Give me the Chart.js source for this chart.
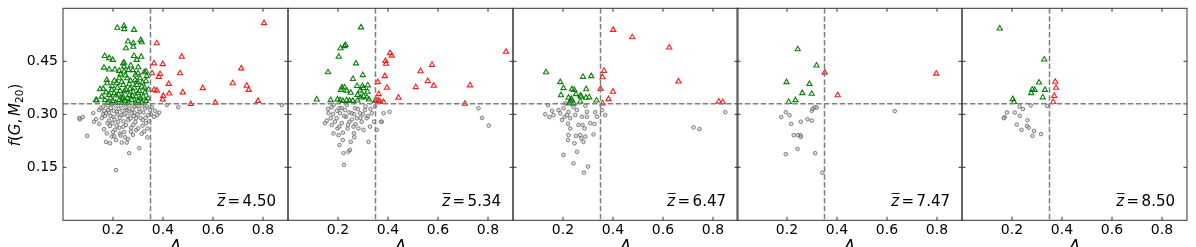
<!DOCTYPE html>
<html><head><meta charset="utf-8">
<script src="https://cdn.jsdelivr.net/npm/chart.js@4"></script>
<style>
html,body{margin:0;padding:0;background:#fff;overflow:hidden;width:1196px;height:247px;}
#wrap{position:relative;width:1196px;height:247px;overflow:hidden;background:#fff;}
canvas{position:absolute;top:0;}
</style></head><body><div id="wrap"></div>
<script>
// ---- data: each point is [A, f(G,M20)] ----
const xTicks = [0.2, 0.4, 0.6, 0.8];
const yTicks = [0.15, 0.30, 0.45];
const cutA = 0.35, cutF = 0.33;
const zLabels = ["4.50", "5.34", "6.47", "7.47", "8.50"];

const p1Gray = [[0.068,0.286],[0.065,0.289],[0.079,0.292],[0.097,0.239],[0.121,0.303],[0.124,0.279],[0.132,0.286],[0.145,0.312],[0.145,0.273],[0.155,0.289],[0.161,0.322],[0.164,0.258],[0.172,0.303],[0.175,0.246],[0.181,0.312],[0.185,0.282],[0.188,0.267],[0.172,0.222],[0.188,0.218],[0.195,0.237],[0.201,0.293],[0.208,0.256],[0.212,0.227],[0.215,0.307],[0.212,0.142],[0.221,0.279],[0.228,0.246],[0.235,0.298],[0.235,0.220],[0.241,0.265],[0.248,0.235],[0.255,0.312],[0.255,0.220],[0.261,0.284],[0.265,0.190],[0.271,0.251],[0.275,0.303],[0.281,0.270],[0.288,0.322],[0.292,0.289],[0.301,0.260],[0.305,0.204],[0.308,0.307],[0.319,0.284],[0.324,0.251],[0.328,0.317],[0.332,0.275],[0.337,0.235],[0.341,0.298],[0.364,0.293],[0.377,0.298],[0.348,0.312],[0.415,0.326],[0.461,0.320],[0.875,0.326],[0.160,0.300],[0.150,0.318],[0.168,0.295],[0.178,0.325],[0.185,0.305],[0.192,0.318],[0.198,0.275],[0.203,0.310],[0.206,0.285],[0.210,0.325],[0.218,0.300],[0.222,0.315],[0.225,0.262],[0.228,0.290],[0.232,0.325],[0.238,0.310],[0.242,0.280],[0.245,0.300],[0.250,0.320],[0.252,0.270],[0.258,0.296],[0.262,0.310],[0.266,0.325],[0.270,0.288],[0.272,0.262],[0.278,0.315],[0.283,0.295],[0.286,0.305],[0.290,0.278],[0.295,0.325],[0.298,0.300],[0.305,0.315],[0.310,0.290],[0.315,0.326],[0.318,0.268],[0.322,0.305],[0.330,0.290],[0.335,0.322],[0.338,0.260],[0.345,0.280],[0.230,0.240],[0.245,0.250],[0.260,0.230],[0.200,0.250],[0.215,0.268],[0.190,0.295],[0.178,0.275],[0.165,0.310],[0.195,0.330],[0.205,0.238],[0.280,0.242],[0.292,0.255],[0.315,0.245],[0.352,0.300],[0.355,0.320],[0.368,0.310],[0.385,0.305]];
const p1Green = [[0.217,0.545],[0.245,0.541],[0.244,0.550],[0.284,0.539],[0.260,0.506],[0.311,0.510],[0.315,0.504],[0.281,0.501],[0.281,0.491],[0.252,0.487],[0.284,0.465],[0.313,0.463],[0.167,0.465],[0.185,0.459],[0.199,0.454],[0.241,0.444],[0.244,0.446],[0.244,0.435],[0.271,0.438],[0.301,0.433],[0.295,0.454],[0.164,0.432],[0.185,0.427],[0.208,0.427],[0.225,0.423],[0.244,0.421],[0.279,0.425],[0.300,0.416],[0.325,0.419],[0.332,0.421],[0.225,0.402],[0.257,0.402],[0.288,0.397],[0.308,0.402],[0.332,0.394],[0.175,0.397],[0.177,0.388],[0.215,0.388],[0.241,0.383],[0.265,0.385],[0.295,0.383],[0.315,0.378],[0.161,0.372],[0.148,0.371],[0.195,0.369],[0.228,0.366],[0.252,0.369],[0.281,0.364],[0.305,0.366],[0.328,0.362],[0.185,0.355],[0.212,0.353],[0.239,0.350],[0.265,0.355],[0.292,0.350],[0.321,0.350],[0.135,0.340],[0.132,0.340],[0.168,0.340],[0.199,0.338],[0.225,0.340],[0.248,0.338],[0.275,0.340],[0.301,0.338],[0.332,0.338],[0.190,0.345],[0.205,0.360],[0.218,0.375],[0.235,0.392],[0.250,0.410],[0.270,0.395],[0.285,0.375],[0.300,0.360],[0.318,0.390],[0.340,0.345],[0.342,0.370],[0.335,0.408],[0.210,0.333],[0.235,0.333],[0.260,0.333],[0.290,0.333],[0.315,0.333],[0.180,0.333],[0.155,0.350],[0.172,0.362],[0.196,0.380],[0.222,0.356],[0.258,0.345],[0.278,0.352],[0.310,0.345],[0.326,0.375],[0.205,0.395],[0.230,0.413],[0.262,0.425],[0.290,0.412],[0.245,0.365],[0.268,0.372],[0.238,0.345],[0.296,0.392]];
const p1Red = [[0.804,0.558],[0.375,0.501],[0.364,0.444],[0.399,0.442],[0.475,0.463],[0.356,0.416],[0.388,0.414],[0.383,0.406],[0.468,0.416],[0.423,0.386],[0.364,0.369],[0.375,0.367],[0.401,0.352],[0.399,0.342],[0.425,0.359],[0.479,0.362],[0.511,0.329],[0.559,0.374],[0.609,0.333],[0.679,0.388],[0.713,0.430],[0.735,0.381],[0.743,0.369],[0.780,0.338]];

const p2Gray = [[0.148,0.275],[0.155,0.282],[0.162,0.303],[0.171,0.289],[0.175,0.270],[0.182,0.246],[0.182,0.326],[0.188,0.279],[0.195,0.289],[0.198,0.260],[0.202,0.241],[0.206,0.317],[0.208,0.303],[0.215,0.275],[0.206,0.213],[0.219,0.227],[0.222,0.190],[0.224,0.157],[0.228,0.312],[0.232,0.293],[0.235,0.326],[0.238,0.260],[0.242,0.194],[0.248,0.199],[0.251,0.222],[0.246,0.279],[0.255,0.303],[0.262,0.265],[0.264,0.246],[0.268,0.317],[0.275,0.289],[0.282,0.260],[0.288,0.303],[0.295,0.279],[0.302,0.256],[0.308,0.312],[0.315,0.289],[0.322,0.222],[0.328,0.265],[0.335,0.303],[0.344,0.279],[0.348,0.322],[0.375,0.279],[0.382,0.303],[0.406,0.307],[0.355,0.256],[0.762,0.317],[0.776,0.290],[0.803,0.268],[0.372,0.279],[0.180,0.300],[0.195,0.310],[0.215,0.318],[0.225,0.295],[0.245,0.305],[0.255,0.285],[0.265,0.300],[0.280,0.315],[0.290,0.290],[0.300,0.300],[0.310,0.322],[0.320,0.295],[0.240,0.270],[0.270,0.272],[0.205,0.265],[0.175,0.320],[0.160,0.315],[0.330,0.315],[0.220,0.248],[0.265,0.235]];
const p2Green = [[0.292,0.546],[0.230,0.496],[0.226,0.493],[0.210,0.487],[0.203,0.463],[0.272,0.444],[0.160,0.419],[0.299,0.411],[0.260,0.400],[0.226,0.376],[0.216,0.376],[0.276,0.380],[0.298,0.380],[0.302,0.374],[0.319,0.382],[0.212,0.369],[0.235,0.367],[0.251,0.361],[0.288,0.367],[0.318,0.364],[0.278,0.355],[0.302,0.352],[0.315,0.348],[0.324,0.342],[0.115,0.342],[0.171,0.340],[0.198,0.342],[0.208,0.340],[0.219,0.338],[0.235,0.340],[0.246,0.338],[0.259,0.338],[0.278,0.339],[0.348,0.338],[0.292,0.348]];
const p2Red = [[0.872,0.477],[0.408,0.473],[0.415,0.466],[0.390,0.451],[0.392,0.443],[0.576,0.440],[0.530,0.422],[0.387,0.408],[0.559,0.394],[0.359,0.391],[0.583,0.381],[0.728,0.382],[0.511,0.377],[0.396,0.375],[0.363,0.357],[0.442,0.347],[0.362,0.338],[0.368,0.336],[0.382,0.335],[0.708,0.330],[0.354,0.339]];

const p3Gray = [[0.140,0.326],[0.129,0.300],[0.146,0.292],[0.156,0.310],[0.162,0.298],[0.182,0.312],[0.189,0.303],[0.196,0.284],[0.202,0.317],[0.206,0.293],[0.216,0.298],[0.220,0.273],[0.222,0.307],[0.229,0.289],[0.202,0.185],[0.220,0.227],[0.222,0.241],[0.229,0.260],[0.242,0.161],[0.246,0.218],[0.249,0.298],[0.256,0.194],[0.252,0.239],[0.256,0.312],[0.262,0.270],[0.269,0.241],[0.273,0.232],[0.276,0.293],[0.278,0.270],[0.282,0.222],[0.284,0.135],[0.286,0.260],[0.289,0.237],[0.296,0.307],[0.300,0.152],[0.296,0.293],[0.309,0.275],[0.322,0.243],[0.326,0.273],[0.329,0.306],[0.336,0.293],[0.356,0.312],[0.369,0.298],[0.722,0.263],[0.746,0.258],[0.849,0.306],[0.209,0.331],[0.242,0.320],[0.289,0.324]];
const p3Green = [[0.132,0.419],[0.189,0.391],[0.280,0.406],[0.313,0.408],[0.202,0.374],[0.236,0.371],[0.245,0.369],[0.293,0.371],[0.192,0.354],[0.252,0.357],[0.270,0.353],[0.273,0.350],[0.222,0.347],[0.233,0.344],[0.292,0.347],[0.305,0.348],[0.236,0.339],[0.269,0.336],[0.334,0.339],[0.225,0.331],[0.242,0.331],[0.229,0.336]];
const p3Red = [[0.401,0.539],[0.477,0.518],[0.625,0.489],[0.364,0.423],[0.358,0.405],[0.662,0.393],[0.350,0.372],[0.400,0.364],[0.382,0.343],[0.358,0.331],[0.823,0.336],[0.839,0.334]];

const p4Gray = [[0.177,0.292],[0.195,0.306],[0.210,0.297],[0.217,0.273],[0.227,0.241],[0.195,0.187],[0.242,0.202],[0.243,0.241],[0.254,0.241],[0.255,0.236],[0.255,0.279],[0.282,0.286],[0.299,0.282],[0.299,0.310],[0.303,0.316],[0.311,0.320],[0.319,0.319],[0.313,0.190],[0.341,0.135],[0.631,0.309]];
const p4Green = [[0.243,0.484],[0.318,0.438],[0.198,0.391],[0.290,0.386],[0.261,0.360],[0.299,0.358],[0.234,0.340],[0.207,0.335]];
const p4Red = [[0.351,0.418],[0.797,0.415],[0.403,0.354]];

const p5Gray = [[0.171,0.292],[0.180,0.305],[0.211,0.305],[0.219,0.271],[0.231,0.296],[0.230,0.322],[0.244,0.315],[0.238,0.256],[0.262,0.283],[0.260,0.267],[0.267,0.262],[0.275,0.325],[0.282,0.239],[0.288,0.253],[0.316,0.244],[0.340,0.324],[0.167,0.289]];
const p5Green = [[0.151,0.543],[0.329,0.455],[0.308,0.390],[0.332,0.369],[0.281,0.370],[0.291,0.369],[0.277,0.360],[0.323,0.348],[0.203,0.343],[0.208,0.335]];
const p5Red = [[0.373,0.392],[0.376,0.375],[0.369,0.352],[0.365,0.335]];

const panels = [
  {gray:p1Gray, green:p1Green, red:p1Red},
  {gray:p2Gray, green:p2Green, red:p2Red},
  {gray:p3Gray, green:p3Green, red:p3Red},
  {gray:p4Gray, green:p4Green, red:p4Red},
  {gray:p5Gray, green:p5Green, red:p5Red}
];

// ---- layout ----
const canvasLefts = [0, 225, 450, 674, 899];
const CW = 296, CH = 262, YW = 63, TOP = 8.3, AREA_BOTTOM = 220.3;
Chart.defaults.font.family = "'DejaVu Sans', sans-serif";
Chart.defaults.color = '#000';

const toXY = arr => arr.map(p => ({x:p[0], y:p[1]}));
const FONT = "'DejaVu Sans', sans-serif";

function framePlugin(idx){
  return {
    id:'frame'+idx,
    afterDatasetsDraw(chart){
      const {ctx, chartArea:a, scales:{x,y}} = chart;
      ctx.save();
      ctx.strokeStyle = '#7f7f7f'; ctx.lineWidth = 1.5; ctx.setLineDash([5.5,2.4]);
      const xv = x.getPixelForValue(cutA), yv = y.getPixelForValue(cutF);
      ctx.beginPath(); ctx.moveTo(xv, a.top); ctx.lineTo(xv, a.bottom); ctx.stroke();
      ctx.beginPath(); ctx.moveTo(a.left, yv); ctx.lineTo(a.right, yv); ctx.stroke();
      ctx.setLineDash([]);
      ctx.strokeStyle = '#333'; ctx.lineWidth = 1;
      ctx.strokeRect(a.left, a.top, a.right - a.left, a.bottom - a.top);
      const L = 3.5;
      ctx.beginPath();
      xTicks.forEach(v => { const p = x.getPixelForValue(v);
        ctx.moveTo(p, a.bottom); ctx.lineTo(p, a.bottom - L);
        ctx.moveTo(p, a.top); ctx.lineTo(p, a.top + L); });
      yTicks.forEach(v => { const p = y.getPixelForValue(v);
        ctx.moveTo(a.left, p); ctx.lineTo(a.left + L, p);
        ctx.moveTo(a.right, p); ctx.lineTo(a.right - L, p); });
      ctx.stroke();
      const fs = 15;
      const italic = 'italic ' + fs + 'px ' + FONT, normal = fs + 'px ' + FONT;
      ctx.fillStyle = '#000';
      ctx.textBaseline = 'alphabetic'; ctx.textAlign = 'left';
      ctx.font = italic; const wz = ctx.measureText('z').width;
      ctx.font = normal; const we = ctx.measureText('=').width; const wv = ctx.measureText(zLabels[idx]).width;
      const gap = 2.5;
      const total = wz + gap + we + gap + wv;
      const base = a.bottom - 14.3;
      let sx = a.right - 12 - total;
      ctx.font = italic; ctx.fillText('z', sx, base);
      ctx.beginPath(); ctx.lineWidth = 0.9; ctx.strokeStyle = '#000';
      ctx.moveTo(sx + 0.5, base - 12.5); ctx.lineTo(sx + wz + 0.5, base - 12.5); ctx.stroke();
      sx += wz + gap;
      ctx.font = normal; ctx.fillText('=', sx, base);
      sx += we + gap;
      ctx.fillText(zLabels[idx], sx, base);
      if (idx === 0) {
        ctx.save();
        ctx.translate(20, 115);
        ctx.rotate(-Math.PI/2);
        const yfs = 15;
        const parts = [
          ['f', 'italic', yfs, 0], ['(', '', yfs, 0], ['G', 'italic', yfs, 0], [',', '', yfs, 0],
          [' ', '', yfs*0.6, 0], ['M', 'italic', yfs, 0], ['20', '', yfs*0.7, 3], [')', '', yfs, 0]
        ];
        let w = 0;
        parts.forEach(p => { ctx.font = (p[1] ? p[1]+' ' : '') + p[2] + 'px ' + FONT; p.push(ctx.measureText(p[0]).width); w += p[4]; });
        let px = -w/2;
        parts.forEach(p => { ctx.font = (p[1] ? p[1]+' ' : '') + p[2] + 'px ' + FONT; ctx.fillText(p[0], px, p[3]); px += p[4]; });
        ctx.restore();
      }
      ctx.restore();
    }
  };
}

panels.forEach((pd, i) => {
  const cv = document.createElement('canvas');
  cv.width = CW; cv.height = CH;
  cv.style.width = CW + 'px'; cv.style.height = CH + 'px';
  cv.style.left = canvasLefts[i] + 'px';
  document.getElementById('wrap').appendChild(cv);
  new Chart(cv, {
    type: 'scatter',
    data: { datasets: [
      { data: toXY(pd.red), order: 1, pointStyle: 'triangle', pointRadius: 3.0,
        pointBorderColor: '#ff1a1a', pointBackgroundColor: 'rgba(255,255,255,0)', pointBorderWidth: 1.1 },
      { data: toXY(pd.green), order: 2, pointStyle: 'triangle', pointRadius: 3.0,
        pointBorderColor: '#0a800a', pointBackgroundColor: 'rgba(255,255,255,0)', pointBorderWidth: 1.1 },
      { data: toXY(pd.gray), order: 3, pointStyle: 'circle', pointRadius: 1.8,
        pointBorderColor: 'rgba(100,100,100,0.9)', pointBackgroundColor: 'rgba(190,190,190,0.45)', pointBorderWidth: 0.9 }
    ]},
    options: {
      responsive: false, animation: false, devicePixelRatio: 1,
      events: [],
      layout: { padding: { top: TOP, right: CW - YW - 225, left: 0, bottom: 0 } },
      plugins: { legend: { display: false }, tooltip: { enabled: false } },
      scales: {
        x: {
          type: 'linear', min: 0, max: 0.9,
          grid: { display: false, drawTicks: false }, border: { display: false },
          afterBuildTicks: s => { s.ticks = xTicks.map(v => ({value: v})); },
          afterFit: s => { s.height = CH - AREA_BOTTOM; s.paddingLeft = 0; s.paddingRight = 0; },
          ticks: { font: { size: 14 }, color: '#000', padding: 2, maxRotation: 0, autoSkip: false,
                   callback: v => Number(v).toFixed(1) },
          title: { display: true, text: 'A', font: { size: 16, style: 'italic' }, color: '#000',
                   padding: { top: 0, bottom: 5.6 } }
        },
        y: {
          type: 'linear', min: 0, max: 0.6,
          grid: { display: false, drawTicks: false }, border: { display: false },
          afterBuildTicks: s => { s.ticks = yTicks.map(v => ({value: v})); },
          afterFit: s => { s.width = YW; s.paddingTop = 0; s.paddingBottom = 0; },
          ticks: { display: i === 0, font: { size: 14 }, color: '#000', padding: 5, autoSkip: false,
                   callback: v => Number(v).toFixed(2) }
        }
      }
    },
    plugins: [framePlugin(i)]
  });
});
</script></body></html>
